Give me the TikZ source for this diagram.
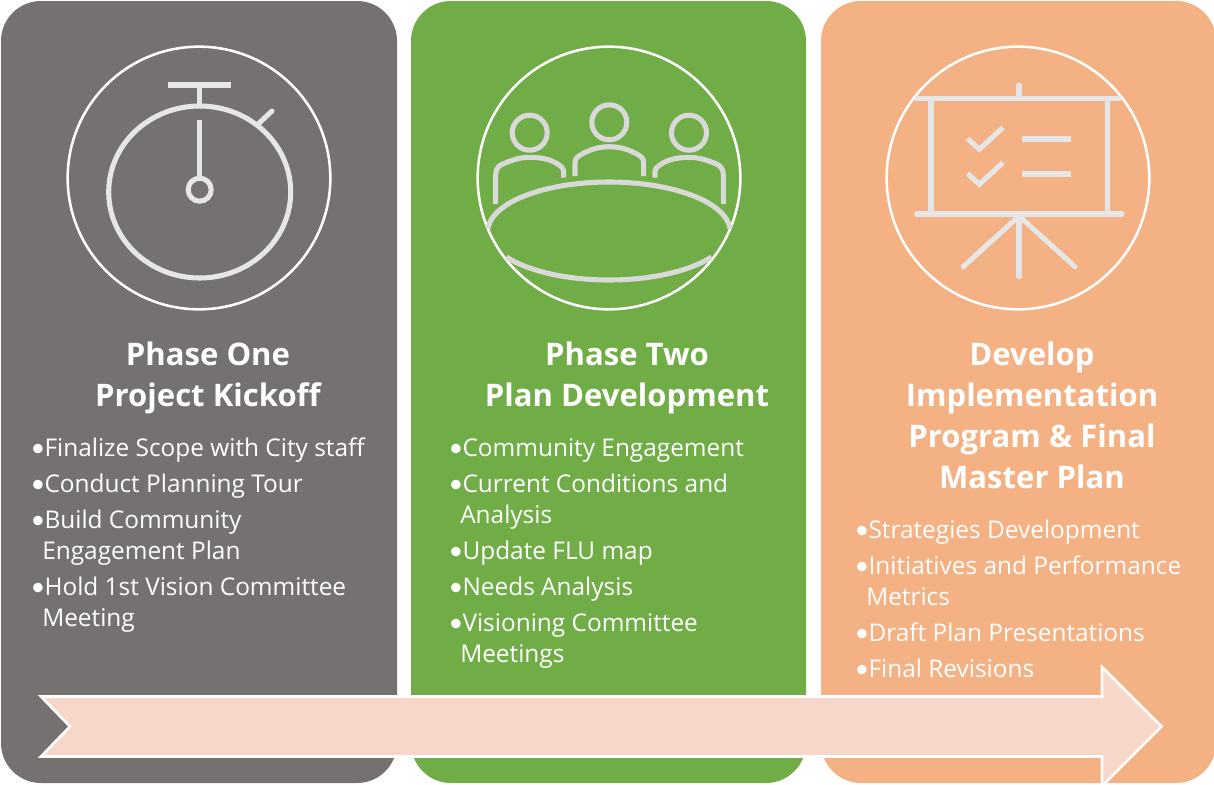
\documentclass[tikz,border=0pt]{standalone}
\usepackage{fontspec}
\setmainfont{Open Sans}
\newfontfamily\bulfont{Carlito}
\definecolor{graypanel}{HTML}{767171}
\definecolor{greenpanel}{HTML}{70AD47}
\definecolor{orangepanel}{HTML}{F4B183}
\definecolor{arrowfill}{HTML}{F8D7CB}
\definecolor{iconlight}{HTML}{E7E6E6}
\definecolor{icontable}{HTML}{D9D9D9}
\tikzset{x=0.75pt,y=-0.75pt,
  panel/.style={rounded corners=30pt,draw=none},
  ring/.style={draw=white,line width=1.9pt,fill=none},
  icon/.style={draw=iconlight,line width=3.8pt},
  tbl/.style={draw=icontable,line width=3.8pt},
  head/.style={text=white,font=\fontsize{23.3pt}{30.5pt}\selectfont\bfseries,align=center,inner sep=0pt,anchor=base},
  item/.style={text=white,font=\fontsize{18.3pt}{23.3pt}\selectfont,align=left,inner sep=0pt,anchor=base west}
}
\newcommand{\bul}{{\bulfont\fontsize{20pt}{23.3pt}\selectfont\textbullet}}
\begin{document}
\begin{tikzpicture}
\useasboundingbox (0,0) rectangle (1214,785);
\fill[white] (0,0) rectangle (1214,785);
% panels
\fill[panel,graypanel] (1,1) rectangle (397,783);
\fill[panel,greenpanel] (411,1) rectangle (806,783);
\fill[panel,orangepanel] (821,1) rectangle (1216,783);
% rings
\node[ring,circle,minimum size=197pt,inner sep=0pt] (ringa) at (199,178) {};
\node[ring,circle,minimum size=197pt,inner sep=0pt] (ringb) at (609,178) {};
\node[ring,circle,minimum size=197pt,inner sep=0pt] (ringc) at (1018,178) {};
% stopwatch
\draw[icon] (199.7,192) ellipse [x radius=91,y radius=86];
\draw[icon] (199.7,189.7) circle [radius=11.5];
\draw[icon] (168,85) -- (231,85);
\draw[icon] (199.7,85) -- (199.7,106);
\draw[icon] (199.7,120) -- (199.7,178);
\draw[icon,line cap=round] (257,125) -- (272,111);
% meeting
\draw[tbl] (529.7,132.7) circle [radius=17.5];
\draw[tbl] (609.3,122.3) circle [radius=17.5];
\draw[tbl] (689,132.7) circle [radius=17.5];
\draw[tbl] (495.7,204) -- (495.7,175) .. controls (495.7,168) and (499,165) .. (505,163) .. controls (515,159) and (522,157.3) .. (530,157.3) .. controls (540,157.3) and (549,159) .. (556,163) .. controls (561,166) and (563.7,168) .. (563.7,172) -- (563.7,177.5);
\draw[tbl] (575,176) -- (575,163) .. controls (575,158) and (578,156) .. (584,153) .. controls (592,149) and (600,146.7) .. (609.3,146.7) .. controls (619,146.7) and (627,149) .. (635,153) .. controls (641,156) and (643.7,158) .. (643.7,163) -- (643.7,176);
\draw[tbl] (655,177.5) -- (655,172) .. controls (655,168) and (658,166) .. (663,163) .. controls (670,159) and (679,157.3) .. (689,157.3) .. controls (697,157.3) and (704,159) .. (714,163) .. controls (720,165) and (723.3,168) .. (723.3,175) -- (723.3,204);
\draw[tbl] plot[smooth,domain=3:177,samples=50] ({609+121*cos(\x)},{231-49*sin(\x)});
\draw[tbl] plot[smooth,domain=212:328,samples=40] ({609+121*cos(\x)},{231-49*sin(\x)});
% easel
\draw[icon] (915,98.3) -- (1121,98.3);
\draw[icon,line cap=round] (1019,85) -- (1019,98);
\draw[icon] (931,98) -- (931,214);
\draw[icon] (1107.3,98) -- (1107.3,214);
\draw[icon,line cap=round] (916.5,214) -- (1122,214);
\draw[icon,line cap=round] (1019,216) -- (963.3,266.7);
\draw[icon,line cap=round] (1019,216) -- (1075,266.7);
\draw[icon,line cap=round] (1019,216) -- (1019,276.7);
\draw[icon] (967.5,138.5) -- (979.3,149.3) -- (1003,127.5);
\draw[icon] (967.5,173.5) -- (979.3,184.3) -- (1003,162.5);
\draw[icon] (1022,139) -- (1071,139);
\draw[icon] (1022,174) -- (1071,174);
% headings
\node[head] (ha) at (208,365) {Phase One};
\node[head] (hb) at (208,406) {Project Kickoff};
\node[head] (hc) at (627,365) {Phase Two};
\node[head] (hd) at (627,406) {Plan Development};
\node[head] (he) at (1032,365) {Develop};
\node[head] (hf) at (1032,406) {Implementation};
\node[head] (hg) at (1032,447) {Program \& Final};
\node[head] (hh) at (1032,488) {Master Plan};
% lists
\node[item] (a1) at (31,456) {\bul Finalize Scope with City staff};
\node[item] (a2) at (31,492) {\bul Conduct Planning Tour};
\node[item] (a3) at (31,528) {\bul Build Community};
\node[item] (a4) at (42,559) {Engagement Plan};
\node[item] (a5) at (31,595) {\bul Hold 1st Vision Committee};
\node[item] (a6) at (42,626) {Meeting};
\node[item] (b1) at (449,456) {\bul Community Engagement};
\node[item] (b2) at (449,492) {\bul Current Conditions and};
\node[item] (b3) at (460,523) {Analysis};
\node[item] (b4) at (449,559) {\bul Update FLU map};
\node[item] (b5) at (449,595) {\bul Needs Analysis};
\node[item] (b6) at (449,631) {\bul Visioning Committee};
\node[item] (b7) at (460,662) {Meetings};
\node[item] (c1) at (855,538) {\bul Strategies Development};
\node[item] (c2) at (855,574) {\bul Initiatives and Performance};
\node[item] (c3) at (866,605) {Metrics};
\node[item] (c4) at (855,641) {\bul Draft Plan Presentations};
\node[item] (c5) at (855,677) {\bul Final Revisions};
% arrow
\draw[draw=white,line width=2pt,fill=arrowfill,miter limit=10] (41,696.5) -- (1102,696.5) -- (1102,667) -- (1161.5,726.5) -- (1102,786) -- (1102,756.5) -- (41,756.5) -- (70,726.5) -- cycle;
\end{tikzpicture}
\end{document}
